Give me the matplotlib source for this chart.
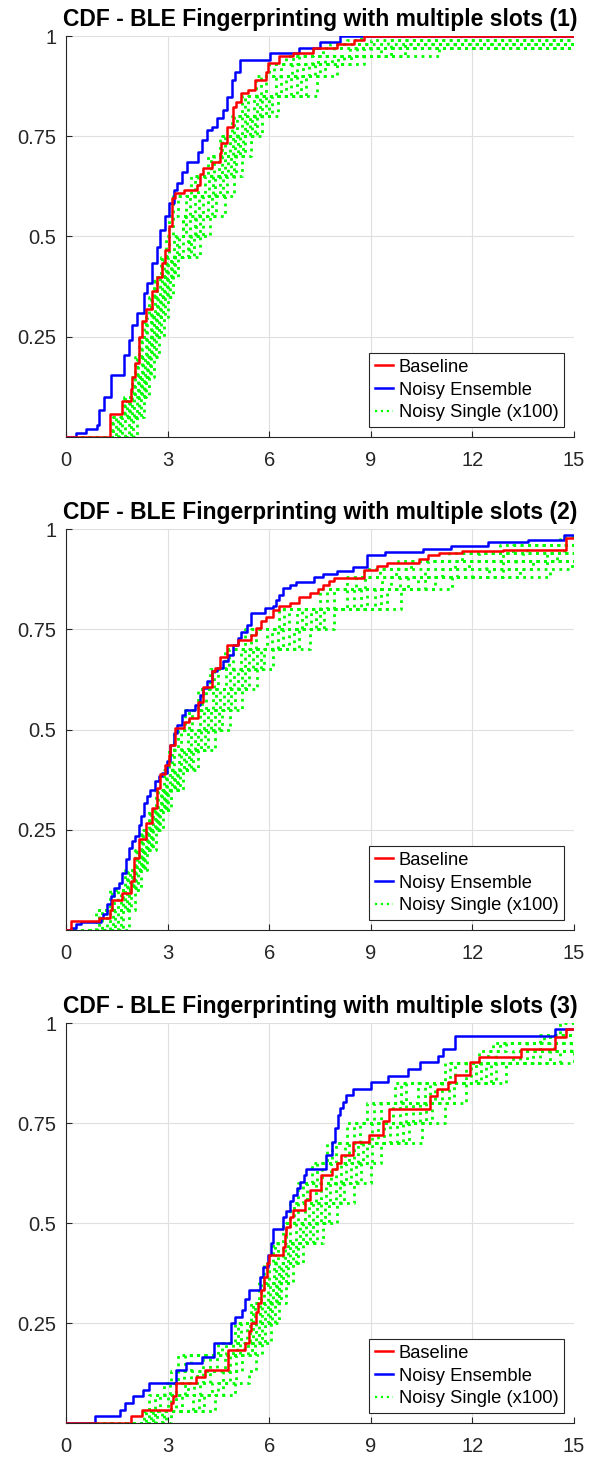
import numpy as np
import matplotlib.pyplot as plt
from matplotlib.lines import Line2D

plt.rcParams['font.family'] = ['Liberation Sans', 'DejaVu Sans']

XTICKS = [0, 3, 6, 9, 12, 15]
YTICKS = [0.25, 0.5, 0.75, 1]
YTICK_LABELS = ['0.25', '0.5', '0.75', '1']
TITLES = ['CDF - BLE Fingerprinting with multiple slots (1)',
          'CDF - BLE Fingerprinting with multiple slots (2)',
          'CDF - BLE Fingerprinting with multiple slots (3)']
LABELS = ['Baseline', 'Noisy Ensemble', 'Noisy Single (x100)']

# ---- slot 1 ----
base1_x = [1.30, 1.66, 1.91, 1.96, 2.05, 2.15, 2.25, 2.35, 2.54, 2.69, 2.83, 2.93, 3.03, 3.13, 3.23,
           3.47, 3.86, 3.96, 4.06, 4.30, 4.55, 4.59, 4.74, 4.94, 5.03, 5.18, 5.38, 5.57, 5.90, 5.96,
           6.30, 6.70, 7.30, 8.00, 8.50, 8.80]
base1_y = [0.058, 0.089, 0.12, 0.15, 0.184, 0.25, 0.29, 0.32, 0.363, 0.40, 0.434, 0.467, 0.525, 0.595, 0.608,
           0.615, 0.629, 0.657, 0.67, 0.687, 0.708, 0.733, 0.774, 0.824, 0.836, 0.857, 0.866, 0.89, 0.91, 0.932,
           0.95, 0.958, 0.97, 0.98, 0.99, 1.0]
ens1_x = [0.29, 0.59, 0.91, 0.98, 1.12, 1.32, 1.71, 1.86, 1.96, 2.10, 2.30, 2.39, 2.54, 2.69, 2.79,
          2.93, 3.03, 3.18, 3.27, 3.42, 3.57, 3.91, 4.01, 4.15, 4.30, 4.45, 4.64, 4.74, 4.89, 4.99,
          5.13, 6.01, 6.88, 7.50, 8.10]
ens1_y = [0.01, 0.02, 0.03, 0.068, 0.10, 0.155, 0.205, 0.243, 0.28, 0.31, 0.36, 0.384, 0.434, 0.475, 0.517,
          0.55, 0.583, 0.616, 0.633, 0.662, 0.687, 0.71, 0.741, 0.766, 0.774, 0.795, 0.816, 0.849, 0.89, 0.911,
          0.94, 0.957, 0.97, 0.985, 1.0]
single1_levels = [0.05, 0.1, 0.15, 0.2, 0.25, 0.3, 0.35, 0.4, 0.45, 0.5, 0.55, 0.6, 0.65, 0.7, 0.75,
                  0.8, 0.85, 0.9, 0.93, 0.95, 0.97, 0.98, 0.99, 1.0]
single1_x = [
    [1.35, 1.70, 1.95, 2.05, 2.15, 2.30, 2.45, 2.60, 2.80, 2.95, 3.05, 3.15, 3.70, 4.20, 4.55, 4.90, 5.20, 5.60, 6.00, 6.50, 7.3, 7.8, 8.3, 8.7],
    [1.40, 1.75, 2.00, 2.10, 2.20, 2.36, 2.50, 2.64, 2.84, 3.05, 3.15, 3.30, 3.80, 4.28, 4.62, 4.97, 5.30, 5.75, 6.15, 6.70, 7.6, 8.2, 9.0, 20],
    [1.48, 1.80, 2.04, 2.14, 2.25, 2.40, 2.54, 2.69, 2.89, 3.35, 3.45, 3.55, 3.91, 4.37, 4.70, 5.05, 5.38, 5.91, 6.34, 6.89, 7.9, 8.6, 9.5, 20],
    [1.55, 1.85, 2.25, 2.38, 2.50, 2.65, 2.78, 2.92, 3.10, 3.20, 3.55, 3.80, 4.40, 4.78, 5.08, 5.42, 5.80, 6.65, 7.17, 7.85, 9.0, 11.5, 20, 20],
    [1.60, 1.90, 2.12, 2.23, 2.35, 2.50, 2.63, 2.78, 2.97, 3.28, 3.45, 3.66, 4.11, 4.53, 4.85, 5.20, 5.55, 6.19, 6.66, 7.26, 8.4, 9.6, 20, 20],
    [1.66, 1.95, 2.16, 2.28, 2.40, 2.55, 2.68, 2.83, 3.01, 3.60, 3.80, 4.05, 4.22, 4.62, 4.92, 5.28, 5.64, 6.35, 6.83, 7.45, 8.6, 10.0, 20, 20],
    [1.73, 2.00, 2.20, 2.33, 2.45, 2.60, 2.73, 2.88, 2.95, 3.45, 3.65, 3.93, 4.33, 4.70, 5.00, 5.35, 5.73, 6.50, 7.00, 7.65, 8.8, 10.5, 20, 20],
    [1.85, 2.10, 2.29, 2.42, 2.55, 2.70, 2.82, 2.97, 3.14, 3.62, 3.85, 4.19, 4.54, 4.87, 5.15, 5.50, 5.90, 6.81, 7.34, 8.04, 9.3, 20, 20, 20],
    [1.91, 2.15, 2.33, 2.47, 2.60, 2.75, 2.87, 3.02, 3.18, 3.70, 3.95, 4.30, 4.64, 4.95, 5.22, 5.58, 5.98, 6.95, 7.50, 8.22, 9.6, 20, 20, 20],
    [1.97, 2.20, 2.37, 2.51, 2.65, 2.80, 2.91, 3.06, 3.22, 3.78, 4.05, 4.44, 4.74, 5.03, 5.30, 5.65, 6.07, 7.09, 7.66, 8.41, 10.0, 20, 20, 20],
    [2.10, 2.30, 2.45, 2.60, 2.75, 2.90, 3.00, 3.15, 3.30, 3.95, 4.25, 4.70, 4.95, 5.20, 5.45, 5.80, 6.25, 7.40, 8.00, 8.80, 11.0, 20, 20, 20],
]

# ---- slot 2 ----
base2_x = [0.15, 0.98, 1.30, 1.37, 1.66, 1.91, 2.00, 2.15, 2.35, 2.54, 2.69, 2.79, 2.93, 3.03, 3.08,
           3.23, 3.47, 3.62, 3.91, 4.06, 4.30, 4.40, 4.55, 4.74, 5.08, 5.47, 5.62, 5.77, 5.91, 6.11,
           6.30, 6.60, 6.88, 7.20, 7.44, 7.60, 7.78, 7.90, 8.80, 9.19, 9.47, 10.43, 10.70, 11.00, 11.70,
           12.90, 14.75]
base2_y = [0.022, 0.031, 0.05, 0.074, 0.093, 0.122, 0.18, 0.226, 0.267, 0.305, 0.354, 0.388, 0.412, 0.437, 0.462,
           0.504, 0.52, 0.529, 0.57, 0.607, 0.645, 0.653, 0.682, 0.711, 0.724, 0.736, 0.753, 0.77, 0.782, 0.798,
           0.807, 0.815, 0.83, 0.84, 0.85, 0.86, 0.87, 0.878, 0.899, 0.907, 0.915, 0.925, 0.935, 0.94, 0.945,
           0.948, 0.978]
ens2_x = [0.15, 0.29, 0.44, 1.03, 1.08, 1.22, 1.32, 1.42, 1.56, 1.66, 1.76, 1.86, 1.96, 2.05, 2.15,
          2.20, 2.30, 2.39, 2.49, 2.64, 2.74, 2.83, 2.98, 3.08, 3.18, 3.27, 3.42, 3.52, 3.81, 3.96,
          4.06, 4.15, 4.30, 4.45, 4.64, 4.79, 4.94, 5.08, 5.18, 5.33, 5.47, 5.87, 6.11, 6.21, 6.30,
          6.40, 6.60, 6.79, 7.33, 7.60, 8.00, 8.46, 8.90, 9.41, 10.54, 11.38, 12.46, 13.64, 14.71]
ens2_y = [0.006, 0.014, 0.02, 0.03, 0.039, 0.064, 0.085, 0.105, 0.118, 0.143, 0.176, 0.205, 0.222, 0.234, 0.263,
          0.284, 0.317, 0.334, 0.35, 0.371, 0.383, 0.392, 0.421, 0.462, 0.491, 0.512, 0.537, 0.549, 0.562, 0.587,
          0.603, 0.62, 0.645, 0.653, 0.67, 0.686, 0.711, 0.728, 0.744, 0.761, 0.79, 0.802, 0.807, 0.823, 0.836,
          0.852, 0.861, 0.869, 0.881, 0.888, 0.895, 0.905, 0.936, 0.943, 0.95, 0.958, 0.967, 0.972, 0.986]
single2_levels = [0.05, 0.1, 0.15, 0.2, 0.25, 0.3, 0.35, 0.4, 0.45, 0.5, 0.55, 0.6, 0.65, 0.7, 0.75,
                  0.8, 0.85, 0.88, 0.9, 0.92, 0.94, 0.96, 0.98]
single2_x = [
    [0.90, 1.30, 1.75, 2.05, 2.20, 2.45, 2.65, 2.90, 3.05, 3.20, 3.50, 3.90, 4.25, 4.70, 5.30, 6.30, 7.50, 8.30, 8.80, 9.80, 11.3, 12.8, 14.6],
    [0.98, 1.37, 1.79, 2.08, 2.24, 2.48, 2.69, 2.95, 3.12, 3.30, 3.62, 4.01, 4.37, 4.82, 5.46, 6.44, 7.70, 8.56, 9.27, 10.2, 11.7, 13.2, 20],
    [1.06, 1.43, 1.83, 2.11, 2.28, 2.52, 2.73, 2.99, 3.19, 3.40, 3.73, 4.12, 4.49, 4.94, 5.62, 6.57, 7.91, 8.83, 9.74, 10.68, 12.2, 13.6, 20],
    [1.21, 1.55, 1.90, 2.17, 2.35, 2.58, 2.80, 3.08, 3.33, 3.60, 3.95, 4.33, 4.71, 5.16, 5.93, 6.83, 8.29, 9.32, 10.6, 11.5, 12.9, 14.7, 20],
    [1.30, 1.62, 1.94, 2.20, 2.39, 2.62, 2.84, 3.13, 3.40, 3.70, 4.07, 4.44, 4.83, 5.28, 6.09, 6.97, 8.50, 9.60, 11.1, 11.9, 13.5, 20, 20],
    [1.38, 1.68, 1.98, 2.23, 2.43, 2.65, 2.88, 3.18, 3.48, 3.80, 4.18, 4.55, 4.95, 5.40, 6.25, 7.10, 8.70, 9.85, 11.55, 12.4, 14.2, 20, 20],
    [1.45, 1.74, 2.02, 2.26, 2.46, 2.68, 2.91, 3.22, 3.55, 3.90, 4.29, 4.66, 5.07, 5.52, 6.41, 7.23, 8.90, 10.1, 12.0, 12.9, 14.5, 20, 20],
    [1.54, 1.80, 2.05, 2.28, 2.50, 2.72, 2.95, 3.27, 3.62, 4.00, 4.40, 4.77, 5.19, 5.64, 6.57, 7.37, 9.11, 10.38, 12.5, 13.3, 20, 20, 20],
    [1.62, 1.86, 2.08, 2.31, 2.54, 2.75, 2.98, 3.32, 3.69, 4.10, 4.51, 4.88, 5.30, 5.75, 6.72, 7.50, 9.30, 10.6, 12.9, 13.8, 20, 20, 20],
    [1.69, 1.92, 2.12, 2.34, 2.57, 2.78, 3.02, 3.36, 3.76, 4.20, 4.62, 4.98, 5.41, 5.86, 6.88, 7.63, 9.49, 10.9, 13.4, 14.2, 20, 20, 20],
    [1.85, 2.05, 2.20, 2.40, 2.65, 2.85, 3.10, 3.45, 3.90, 4.40, 4.85, 5.20, 5.65, 6.10, 7.20, 7.90, 9.90, 11.4, 14.3, 14.95, 20, 20, 20],
]

# ---- slot 3 ----
base3_x = [1.92, 2.25, 3.10, 3.15, 3.25, 3.83, 4.11, 4.79, 5.30, 5.41, 5.47, 5.60, 5.68, 5.75, 5.85,
           5.94, 5.98, 6.41, 6.47, 6.51, 6.61, 6.71, 7.05, 7.20, 7.54, 7.84, 7.99, 8.13, 8.48, 8.95,
           9.36, 9.53, 10.74, 10.96, 11.28, 11.48, 11.92, 12.18, 13.42, 14.45, 14.77]
base3_y = [0.017, 0.033, 0.05, 0.067, 0.10, 0.116, 0.133, 0.183, 0.20, 0.229, 0.25, 0.278, 0.30, 0.333, 0.366,
           0.40, 0.419, 0.441, 0.47, 0.49, 0.516, 0.533, 0.558, 0.583, 0.619, 0.635, 0.65, 0.669, 0.702, 0.719,
           0.754, 0.785, 0.818, 0.835, 0.852, 0.87, 0.903, 0.915, 0.935, 0.965, 0.985]
ens3_x = [0.85, 1.58, 1.75, 1.97, 2.28, 2.46, 3.25, 3.53, 4.02, 4.37, 4.87, 5.00, 5.19, 5.30, 5.39,
          5.72, 5.82, 5.97, 6.05, 6.10, 6.41, 6.49, 6.61, 6.71, 6.81, 6.92, 7.02, 7.10, 7.67, 7.84,
          7.94, 8.04, 8.10, 8.18, 8.28, 8.48, 9.02, 9.51, 10.10, 10.44, 10.99, 11.13, 11.48, 14.45]
ens3_y = [0.017, 0.033, 0.05, 0.067, 0.083, 0.10, 0.133, 0.15, 0.166, 0.20, 0.25, 0.266, 0.283, 0.31, 0.333,
          0.366, 0.39, 0.42, 0.45, 0.485, 0.516, 0.53, 0.554, 0.57, 0.587, 0.602, 0.619, 0.635, 0.669, 0.702,
          0.737, 0.77, 0.787, 0.803, 0.82, 0.835, 0.852, 0.868, 0.885, 0.902, 0.918, 0.935, 0.968, 0.985]
single3_levels = [0.03, 0.07, 0.1, 0.13, 0.17, 0.2, 0.25, 0.3, 0.35, 0.4, 0.45, 0.5, 0.55, 0.6, 0.65,
                  0.7, 0.75, 0.8, 0.85, 0.9, 0.93, 0.95, 0.97, 1.0]
single3_x = [
    [2.30, 2.45, 2.90, 3.10, 3.30, 4.50, 5.00, 5.45, 5.70, 5.85, 6.10, 6.40, 6.60, 6.85, 7.25, 7.70, 8.30, 8.90, 9.70, 11.2, 12.2, 12.6, 14.0, 14.6],
    [2.37, 2.62, 3.08, 3.30, 3.50, 4.61, 5.09, 5.52, 5.77, 5.93, 6.18, 6.50, 6.72, 6.99, 7.40, 7.84, 8.49, 9.10, 9.88, 11.35, 12.45, 12.8, 14.1, 20],
    [2.44, 2.78, 3.26, 3.49, 3.69, 4.72, 5.18, 5.59, 5.84, 6.00, 6.25, 6.60, 6.84, 7.13, 7.55, 7.97, 8.67, 9.29, 10.05, 11.5, 12.7, 13.0, 14.3, 20],
    [2.50, 3.00, 3.50, 3.70, 4.70, 5.25, 5.60, 5.95, 6.20, 6.35, 6.62, 7.10, 7.42, 7.80, 8.28, 8.63, 9.58, 10.25, 10.9, 12.25, 13.8, 14.9, 20, 20],
    [2.56, 3.09, 3.59, 3.86, 4.06, 4.93, 5.35, 5.73, 5.96, 6.14, 6.40, 6.80, 7.06, 7.39, 7.83, 8.23, 9.03, 9.66, 10.4, 11.8, 13.2, 13.6, 14.7, 20],
    [2.63, 3.26, 3.77, 4.05, 4.25, 5.04, 5.44, 5.80, 6.03, 6.21, 6.48, 6.90, 7.18, 7.53, 7.98, 8.37, 9.21, 9.86, 10.6, 11.95, 13.4, 14.0, 20, 20],
    [2.70, 3.43, 3.95, 4.25, 4.45, 5.15, 5.53, 5.88, 6.10, 6.28, 6.55, 7.00, 7.30, 7.68, 8.13, 8.50, 9.40, 10.05, 10.75, 12.1, 13.6, 14.4, 20, 20],
    [2.84, 3.76, 4.31, 4.64, 4.84, 5.37, 5.70, 6.02, 6.24, 6.42, 6.70, 7.20, 7.54, 7.96, 8.42, 8.77, 9.77, 10.44, 11.1, 12.4, 14.0, 20, 20, 20],
    [2.90, 3.92, 4.48, 4.83, 5.03, 5.48, 5.78, 6.09, 6.30, 6.49, 6.78, 7.30, 7.65, 8.09, 8.56, 8.90, 9.95, 10.63, 11.3, 12.55, 14.3, 20, 20, 20],
    [2.96, 4.07, 4.64, 5.01, 5.21, 5.58, 5.87, 6.16, 6.36, 6.55, 6.85, 7.40, 7.76, 8.22, 8.70, 9.03, 10.13, 10.81, 11.45, 12.7, 14.6, 20, 20, 20],
    [3.10, 4.40, 5.00, 5.40, 5.60, 5.80, 6.05, 6.30, 6.50, 6.70, 7.00, 7.60, 8.00, 8.50, 9.00, 9.30, 10.5, 11.2, 11.8, 13.0, 15.0, 20, 20, 20],
]

panels = [
    (base1_x, base1_y, ens1_x, ens1_y, single1_levels, single1_x),
    (base2_x, base2_y, ens2_x, ens2_y, single2_levels, single2_x),
    (base3_x, base3_y, ens3_x, ens3_y, single3_levels, single3_x),
]

RED = '#ff0000'
BLUE = '#0000ff'
GREEN = '#00ff00'
AXC = '#262626'


def cdf_step(ax, xs, ys, **kw):
    x = np.r_[0.0, xs, 20.0]
    y = np.r_[0.0, ys, ys[-1]]
    return ax.step(x, y, where='post', **kw)


fig = plt.figure(figsize=(6.01, 14.58), dpi=100)
rects = [[0.1098, 0.7003, 0.8453, 0.2750],
         [0.1098, 0.3621, 0.8453, 0.2750],
         [0.1098, 0.0240, 0.8453, 0.2743]]

for rect, title, (bx, by, ex, ey, lv, sx) in zip(rects, TITLES, panels):
    ax = fig.add_axes(rect)
    for xs in sx:
        cdf_step(ax, xs, lv, color=GREEN, lw=2.0, ls=':', zorder=2)
    cdf_step(ax, ex, ey, color=BLUE, lw=1.8, zorder=3)
    cdf_step(ax, bx, by, color=RED, lw=1.8, zorder=4)

    ax.set_xlim(0, 15)
    ax.set_ylim(0, 1)
    ax.set_xticks(XTICKS)
    ax.set_xticklabels([str(t) for t in XTICKS])
    ax.set_yticks(YTICKS)
    ax.set_yticklabels(YTICK_LABELS)
    ax.grid(True, color='#dfdfdf', lw=0.8)
    ax.set_axisbelow(True)
    for s in ('top', 'right'):
        ax.spines[s].set_visible(False)
    for s in ('left', 'bottom'):
        ax.spines[s].set_color(AXC)
        ax.spines[s].set_linewidth(0.8)
    ax.tick_params(direction='in', length=4, width=0.8, colors=AXC, labelsize=14.5,
                   labelcolor='#262626')
    ax.tick_params(axis='x', pad=10)
    ax.tick_params(axis='y', pad=7)
    ax.set_title(title, fontsize=16.5, fontweight='bold', pad=7)

    handles = [Line2D([], [], color=RED, lw=1.8),
               Line2D([], [], color=BLUE, lw=1.8),
               Line2D([], [], color=GREEN, lw=1.6, ls=':')]
    leg = ax.legend(handles, LABELS, loc='lower right', fontsize=13.2, frameon=True,
                    fancybox=False, framealpha=1, edgecolor=AXC, handlelength=1.0,
                    handletextpad=0.3, borderpad=0.3, labelspacing=0.32,
                    borderaxespad=0.55)
    leg.get_frame().set_linewidth(0.8)

fig.savefig('out.png', dpi=100)
